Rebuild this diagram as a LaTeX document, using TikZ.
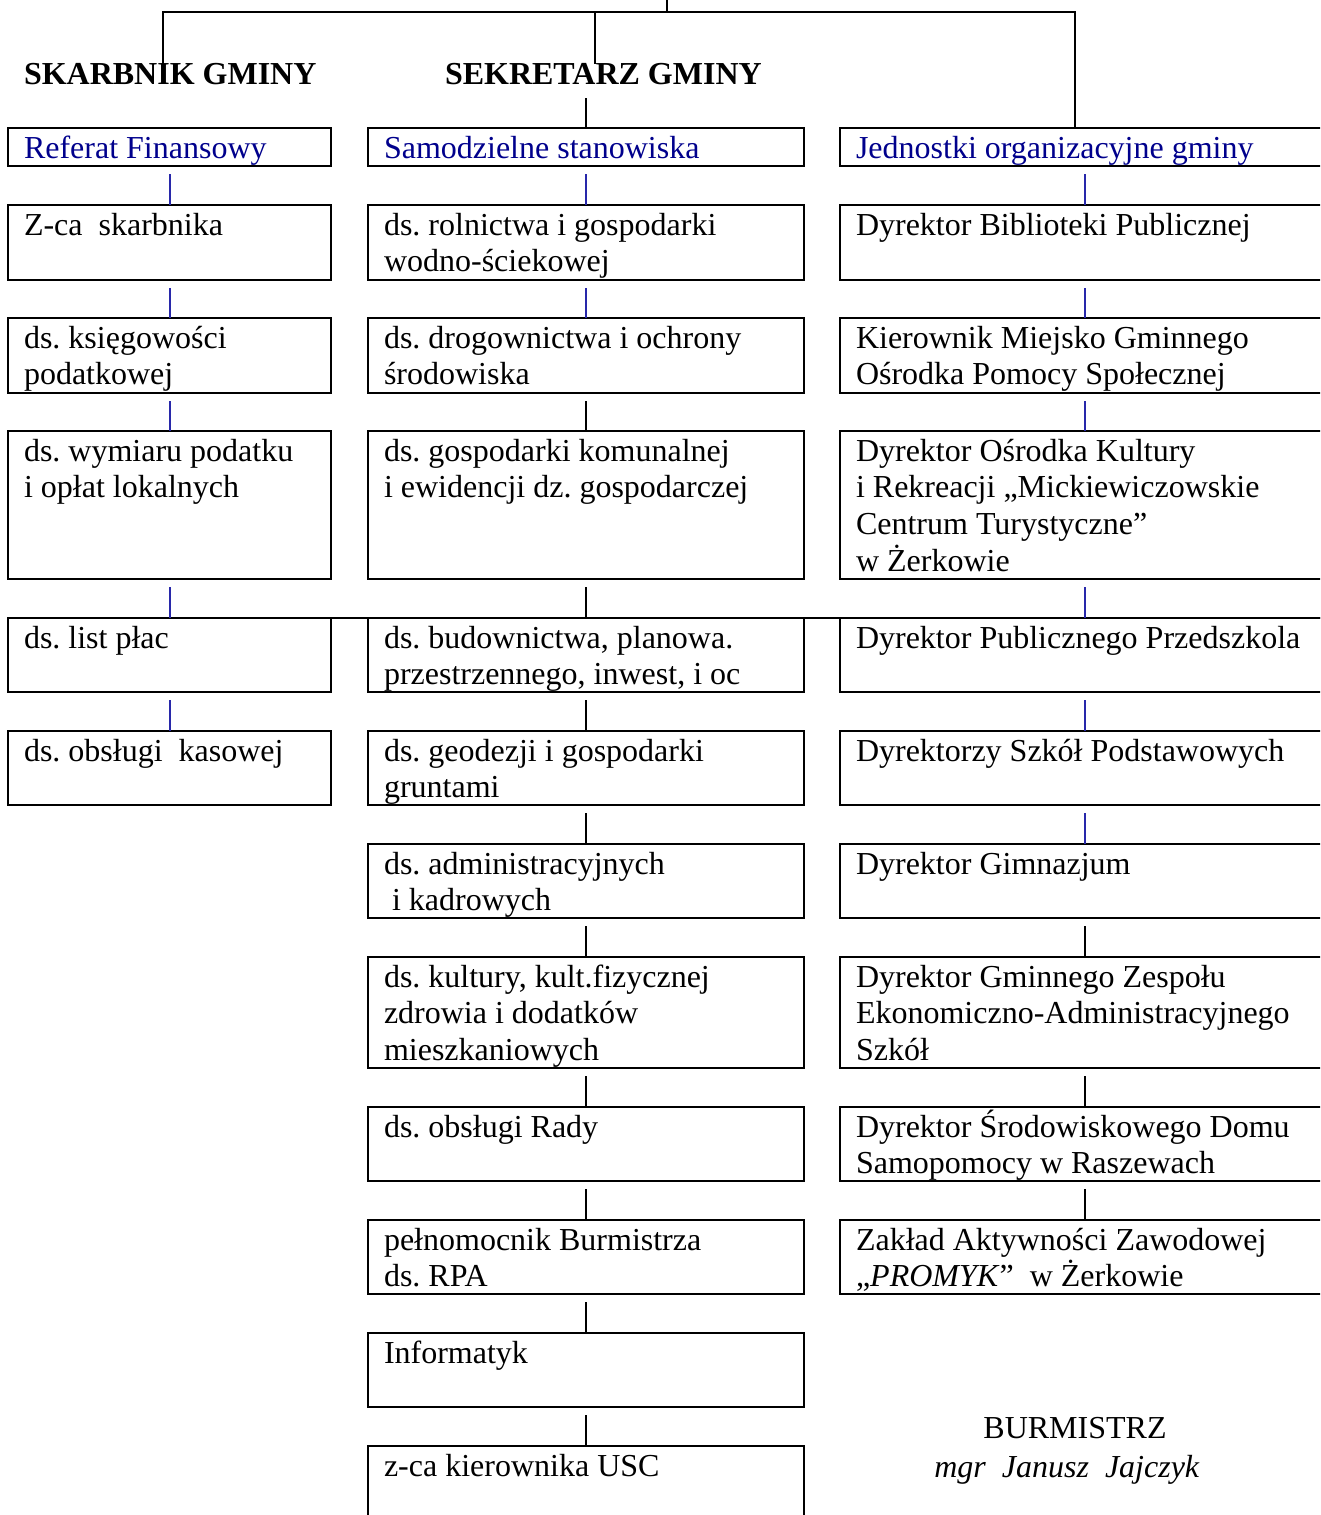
\documentclass[tikz,border=0pt]{standalone}
\usepackage{fontspec}
\setmainfont{Liberation Serif}
\frenchspacing
\definecolor{navytext}{RGB}{0,0,140}
\definecolor{navyline}{RGB}{40,40,170}
\tikzset{
  box/.style={draw, rectangle, line width=2pt, inner sep=0pt, outer sep=0pt},
  txt/.style={inner sep=0pt, outer sep=0pt, font=\fontsize{32}{36.8}\selectfont\frenchspacing},
  conn/.style={line width=1.2pt},
  tree/.style={line width=2pt, line cap=rect},
  head/.style={txt, font=\fontsize{32}{36.8}\selectfont\bfseries}
}
% #1 text style, #2 name, #3 x, #4 y top, #5 width, #6 height, #7 text
\newcommand\orgbox[7][]{%
  \node[box, minimum width=#5pt, minimum height=#6pt, anchor=north west] (#2) at (#3,#4) {};
  \node[txt, anchor=base west, #1] (#2t) at ([shift={(16pt,-30pt)}]#2.north west) {\parbox[t]{480pt}{\raggedright #7}};
}
\begin{document}
\begin{tikzpicture}[x=1pt, y=-1pt]
\useasboundingbox (0,0) rectangle (1320,1515);
\clip (0,0) rectangle (1320,1515);

% headings
\node[head, anchor=base west] (skarb) at (24,84) {SKARBNIK GMINY};
\node[head, anchor=base west] (sekr) at (445,84) {SEKRETARZ GMINY};

% left column
\orgbox[text=navytext]{L0}{8}{128}{323}{38}{Referat Finansowy}
\orgbox{L1}{8}{205}{323}{75}{Z-ca~ skarbnika}
\orgbox{L2}{8}{318}{323}{75}{ds. księgowości\\podatkowej}
\orgbox{L3}{8}{431}{323}{148}{ds. wymiaru podatku\\i opłat lokalnych}
\orgbox{L4}{8}{618}{323}{74}{ds. list płac}
\orgbox{L5}{8}{731}{323}{74}{ds. obsługi~ kasowej}

% middle column
\orgbox[text=navytext]{M0}{368}{128}{436}{38}{Samodzielne stanowiska}
\orgbox{M1}{368}{205}{436}{75}{ds. rolnictwa i gospodarki\\wodno-ściekowej}
\orgbox{M2}{368}{318}{436}{75}{ds. drogownictwa i ochrony\\środowiska}
\orgbox{M3}{368}{431}{436}{148}{ds. gospodarki komunalnej\\i ewidencji dz. gospodarczej}
\orgbox{M4}{368}{618}{436}{74}{ds. budownictwa, planowa.\\przestrzennego, inwest, i oc}
\orgbox{M5}{368}{731}{436}{74}{ds. geodezji i gospodarki\\gruntami}
\orgbox{M6}{368}{844}{436}{74}{ds. administracyjnych\\\hspace*{8pt}i kadrowych}
\orgbox{M7}{368}{957}{436}{111}{ds. kultury, kult.fizycznej\\zdrowia i dodatków\\mieszkaniowych}
\orgbox{M8}{368}{1107}{436}{74}{ds. obsługi Rady}
\orgbox{M9}{368}{1220}{436}{74}{pełnomocnik Burmistrza\\ds. RPA}
\orgbox{M10}{368}{1333}{436}{74}{Informatyk}
\orgbox{M11}{368}{1446}{436}{100}{z-ca kierownika USC}

% right column
\orgbox[text=navytext]{R0}{840}{128}{490}{38}{Jednostki organizacyjne gminy}
\orgbox{R1}{840}{205}{490}{75}{Dyrektor Biblioteki Publicznej}
\orgbox{R2}{840}{318}{490}{75}{Kierownik Miejsko Gminnego\\Ośrodka Pomocy Społecznej}
\orgbox{R3}{840}{431}{490}{148}{Dyrektor Ośrodka Kultury\\i Rekreacji „Mickiewiczowskie\\Centrum Turystyczne”\\w Żerkowie}
\orgbox{R4}{840}{618}{490}{74}{Dyrektor Publicznego Przedszkola}
\orgbox{R5}{840}{731}{490}{74}{Dyrektorzy Szkół Podstawowych}
\orgbox{R6}{840}{844}{490}{74}{Dyrektor Gimnazjum}
\orgbox{R7}{840}{957}{490}{111}{Dyrektor Gminnego Zespołu\\Ekonomiczno-Administracyjnego\\Szkół}
\orgbox{R8}{840}{1107}{490}{74}{Dyrektor Środowiskowego Domu\\Samopomocy w Raszewach}
\orgbox{R9}{840}{1220}{490}{74}{Zakład Aktywności Zawodowej\\„\textit{PROMYK}”~ w Żerkowie}

% long horizontal line along row 4 tops
\draw[line width=2pt] (L4.north west) -- (R4.north east);

% connectors inside columns
\foreach \a/\b/\c/\d in {L0/L1/navyline/0.5, L1/L2/navyline/0.5, L2/L3/navyline/0.5, L3/L4/navyline/0.5, L4/L5/navyline/0.5,
  M0/M1/navyline/0, M1/M2/navyline/0, M2/M3/black/0, M3/M4/black/0, M4/M5/black/0, M5/M6/black/0,
  M6/M7/black/0, M7/M8/black/0, M8/M9/black/0, M9/M10/black/0, M10/M11/black/0,
  R0/R1/navyline/0, R1/R2/navyline/0, R2/R3/navyline/0, R3/R4/navyline/0, R4/R5/navyline/0, R5/R6/navyline/0,
  R6/R7/black/0, R7/R8/black/0, R8/R9/black/0}
  \draw[conn, draw=\c] ([shift={(\d pt,-8pt)}]\a.south) -- ([xshift=\d pt]\b.north);

% top tree
\coordinate (top) at (667,0);
\coordinate (hj) at (667,12);
\coordinate (hl) at (163,12);
\coordinate (hm) at (595,12);
\coordinate (hr) at (1075,12);
\draw[tree] (top) -- (hj);
\draw[tree] (hl) -- (hr);
\draw[tree] (hl) -- (hl |- skarb.north);
\draw[tree] (hm) -- (hm |- sekr.north);
\draw[tree] (hr) -- (hr |- R0.north);
\draw[line width=2pt] ([yshift=-14pt]sekr.south -| M0.north) -- (M0.north);

% signature
\node[txt, anchor=base] (burm) at (1075,1438) {BURMISTRZ};
\node[txt, anchor=base] (name) at (1067,1477) {\textit{mgr~ Janusz~ Jajczyk}};
\end{tikzpicture}
\end{document}
